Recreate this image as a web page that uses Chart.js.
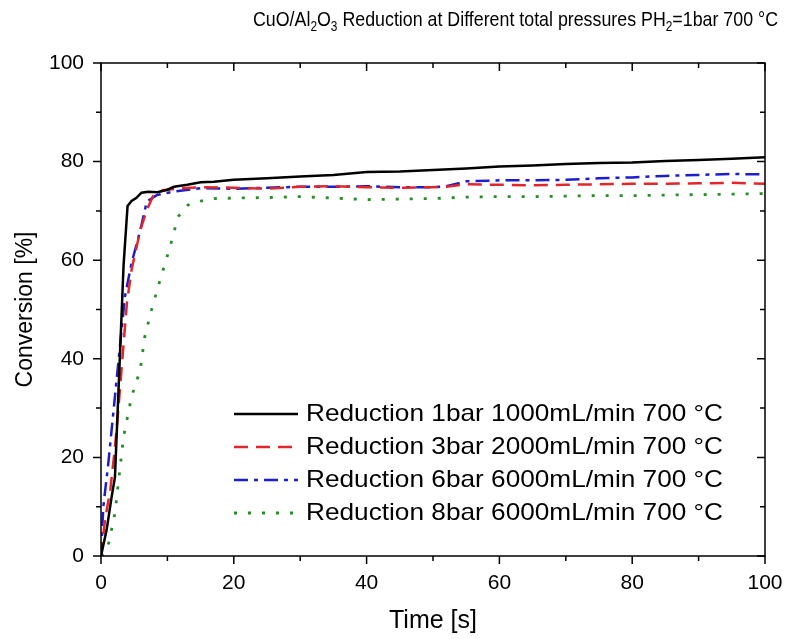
<!DOCTYPE html>
<html>
<head>
<meta charset="utf-8">
<script src="https://cdn.jsdelivr.net/npm/chart.js@4.4.1/dist/chart.umd.min.js"></script>
<style>
  html, body { margin: 0; padding: 0; background: #fff; }
  #wrap { width: 791px; height: 639px; }
</style>
</head>
<body>
<div id="wrap"><canvas id="conv" width="791" height="639"></canvas></div>
<script>
// data
const labels = [
    'Reduction 1bar 1000mL/min 700 °C',
    'Reduction 3bar 2000mL/min 700 °C',
    'Reduction 6bar 6000mL/min 700 °C',
    'Reduction 8bar 6000mL/min 700 °C'
];
const xTicks = [0, 20, 40, 60, 80, 100];
const yTicks = [0, 20, 40, 60, 80, 100];

const time1 = [0, 0.85, 1.6, 2.1, 2.8, 3.4, 4.0, 4.6, 5.3, 6.1, 7.1, 8.5, 10, 11, 13, 15, 17, 20, 25, 30, 35, 40, 45, 50, 55, 60, 65, 70, 75, 80, 85, 90, 95, 100];
const conv1 = [0, 5.3, 12, 16, 39, 59, 71, 72, 72.6, 73.7, 73.9, 73.8, 74.3, 74.9, 75.3, 75.8, 75.9, 76.3, 76.6, 77.0, 77.3, 77.9, 78.0, 78.3, 78.6, 79.0, 79.2, 79.5, 79.7, 79.8, 80.1, 80.3, 80.6, 80.9];

const time2 = [0, 0.6, 1.4, 2.1, 2.6, 3.4, 3.9, 4.6, 5.9, 6.9, 7.9, 9.3, 12, 15, 20, 25, 30, 35, 40, 45, 50, 52, 55, 60, 65, 70, 75, 80, 85, 90, 95, 100];
const conv2 = [0, 7.3, 13.4, 22, 29.6, 43, 51.3, 58, 66, 70.2, 73.2, 74.2, 74.6, 74.8, 74.7, 74.5, 74.9, 75.0, 74.8, 74.7, 74.8, 74.9, 75.4, 75.3, 75.2, 75.3, 75.4, 75.5, 75.5, 75.6, 75.7, 75.5];

const time3 = [0, 0.35, 1.1, 1.6, 2.4, 3.1, 3.6, 4.6, 5.9, 6.9, 8.4, 10.9, 15, 20, 25, 30, 35, 40, 45, 50, 52, 55, 60, 65, 70, 75, 80, 85, 90, 95, 100];
const conv3 = [0, 10, 18.8, 25.6, 36.4, 45.8, 52.6, 59.4, 66, 71.9, 73.2, 73.9, 74.6, 74.5, 74.7, 74.9, 74.9, 75.0, 74.8, 74.8, 75.0, 76.0, 76.2, 76.2, 76.3, 76.6, 76.8, 77.1, 77.3, 77.5, 77.4];

const time4 = [0, 0.5, 1.2, 2.1, 3.4, 4.6, 5.9, 6.6, 7.6, 8.9, 10.4, 11.6, 13.1, 15, 17, 20, 25, 30, 35, 40, 45, 50, 55, 60, 65, 70, 75, 80, 85, 90, 95, 100];
const conv4 = [0, 0.5, 2.8, 8.7, 24.2, 32.3, 37.7, 44.5, 49.9, 56, 62.7, 68.8, 71.2, 72.0, 72.5, 72.6, 72.7, 72.9, 72.6, 72.3, 72.4, 72.5, 72.8, 72.9, 72.9, 73.0, 73.1, 73.1, 73.2, 73.3, 73.4, 73.5];

const FONT = '"Liberation Sans", Arial, sans-serif';

function pts(t, c) {
    return t.map(function (v, i) { return { x: v, y: c[i] }; });
}

// frame + inward/outward ticks
const frame = {
    id: 'frame',
    afterDatasetsDraw(chart) {
        const ctx = chart.ctx;
        const a = chart.chartArea;
        const xs = chart.scales.x, ys = chart.scales.y;
        ctx.save();
        ctx.strokeStyle = '#000';
        ctx.lineWidth = 1.5;
        ctx.strokeRect(a.left, a.top, a.right - a.left, a.bottom - a.top);
        ctx.beginPath();
        for (let v = 0; v <= 100; v += 10) {
            const len = v % 20 == 0 ? 8 : 5;
            const px = xs.getPixelForValue(v);
            const py = ys.getPixelForValue(v);
            ctx.moveTo(px, a.bottom); ctx.lineTo(px, a.bottom + len);
            ctx.moveTo(px, a.top); ctx.lineTo(px, a.top + len);
            ctx.moveTo(a.left, py); ctx.lineTo(a.left - len, py);
            ctx.moveTo(a.right, py); ctx.lineTo(a.right - len, py);
        }
        ctx.stroke();
        ctx.restore();
    }
};

// legend inside the plot
const legendBox = {
    id: 'legendBox',
    afterDraw(chart) {
        const ctx = chart.ctx;
        const rows = [414, 447, 480, 513];
        ctx.save();
        ctx.font = '24px ' + FONT;
        ctx.textBaseline = 'middle';
        ctx.fillStyle = '#000';
        chart.data.datasets.forEach(function (ds, i) {
            const y = rows[i];
            ctx.strokeStyle = ds.borderColor;
            ctx.lineWidth = ds.borderWidth;
            ctx.setLineDash(ds.borderDash || []);
            ctx.beginPath();
            ctx.moveTo(234, y);
            ctx.lineTo(298, y);
            ctx.stroke();
            ctx.setLineDash([]);
            const w = ctx.measureText(ds.label).width;
            ctx.save();
            ctx.translate(306, y);
            ctx.scale(417 / w, 1);
            ctx.fillText(ds.label, 0, 0);
            ctx.restore();
        });
        ctx.restore();
    }
};

// title with subscripts, narrow face
const titleSub = {
    id: 'titleSub',
    afterDraw(chart) {
        const ctx = chart.ctx;
        const parts = [
            ['CuO/Al', 0], ['2', 1], ['O', 0], ['3', 1],
            [' Reduction at Different total pressures PH', 0], ['2', 1],
            ['=1bar 700 °C', 0]
        ];
        const big = '21px ' + FONT, small = '14px ' + FONT;
        ctx.save();
        ctx.fillStyle = '#000';
        ctx.textBaseline = 'alphabetic';
        let w = 0;
        parts.forEach(function (p) {
            ctx.font = p[1] ? small : big;
            w += ctx.measureText(p[0]).width;
        });
        ctx.translate(253, 26);
        ctx.scale(525 / w, 1);
        let x = 0;
        parts.forEach(function (p) {
            ctx.font = p[1] ? small : big;
            ctx.fillText(p[0], x, p[1] ? 5 : 0);
            x += ctx.measureText(p[0]).width;
        });
        ctx.restore();
    }
};

new Chart(document.getElementById('conv'), {
    type: 'line',
    data: {
        datasets: [{
            label: labels[0],
            data: pts(time1, conv1),
            borderColor: '#000000',
            borderWidth: 2.5
        }, {
            label: labels[1],
            data: pts(time2, conv2),
            borderColor: '#e3262b',
            borderWidth: 2.5,
            borderDash: [14, 8]
        }, {
            label: labels[2],
            data: pts(time3, conv3),
            borderColor: '#1d1dcc',
            borderWidth: 2.5,
            borderDash: [14, 6, 4, 6]
        }, {
            label: labels[3],
            data: pts(time4, conv4),
            borderColor: '#2a8c2a',
            borderWidth: 2.8,
            borderDash: [3, 11]
        }]
    },
    options: {
        responsive: false,
        animation: false,
        devicePixelRatio: 1,
        layout: { padding: { top: 63, right: 26, left: 0, bottom: 0 } },
        elements: { point: { radius: 0 }, line: { tension: 0, fill: false } },
        plugins: { legend: { display: false }, title: { display: false }, tooltip: { enabled: false } },
        scales: {
            x: {
                type: 'linear', min: 0, max: 100,
                afterBuildTicks: function (s) { s.ticks = xTicks.map(function (v) { return { value: v }; }); },
                afterFit: function (s) { s.height = 83; s.paddingLeft = 0; s.paddingRight = 0; },
                grid: { display: false, drawTicks: false },
                border: { display: false },
                ticks: { color: '#000', font: { family: FONT, size: 21 }, padding: 15, maxRotation: 0 },
                title: { display: true, text: 'Time [s]', color: '#000', font: { family: FONT, size: 25 }, padding: { top: 0, bottom: 3 } }
            },
            y: {
                min: 0, max: 100,
                afterBuildTicks: function (s) { s.ticks = yTicks.map(function (v) { return { value: v }; }); },
                afterFit: function (s) { s.width = 101; s.paddingTop = 0; s.paddingBottom = 0; },
                grid: { display: false, drawTicks: false },
                border: { display: false },
                ticks: { color: '#000', font: { family: FONT, size: 21 }, padding: 17 },
                title: { display: true, text: 'Conversion [%]', color: '#000', font: { family: FONT, size: 23 }, padding: { top: 12, bottom: 0 } }
            }
        }
    },
    plugins: [frame, legendBox, titleSub]
});
</script>
</body>
</html>
